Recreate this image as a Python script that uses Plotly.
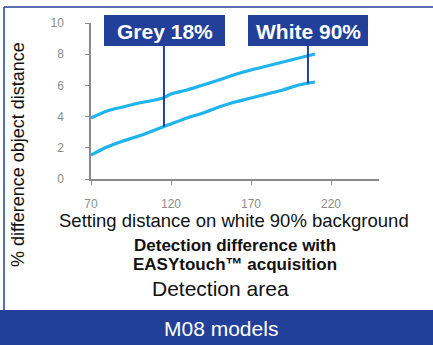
import numpy as np
import plotly.graph_objects as go

# Setting distance (x) and % difference in detected object distance (y)
setting_distance = [70, 80, 90, 100, 110, 115, 120, 130, 140, 150, 160, 170, 180, 190, 200, 210]
grey_18 = [1.54, 2.05, 2.44, 2.76, 3.14, 3.34, 3.53, 3.91, 4.23, 4.62, 4.94, 5.19, 5.45, 5.71, 6.03, 6.22]
white_90 = [3.91, 4.36, 4.62, 4.87, 5.06, 5.19, 5.45, 5.71, 6.03, 6.35, 6.70, 6.99, 7.24, 7.50, 7.76, 8.01]

x_ticks = [70, 120, 170, 220]
y_ticks = [0, 2, 4, 6, 8, 10]

# Where each callout points on the curves
grey_callout_x = 115.6
white_callout_x = 205.6

W, H = 433, 345
ML, MR, MT, MB = 91, 54, 23, 166
PW, PH = W - ML - MR, H - MT - MB

BLUE = "#22409a"
CYAN = "#1fb4ee"
FONT = "Liberation Sans, Arial, sans-serif"


def px(x):
    return (x - ML) / PW


def py(y):
    return (H - MB - y) / PH


fig = go.Figure()
for series in (grey_18, white_90):
    fig.add_trace(go.Scatter(
        x=setting_distance, y=series, mode="lines",
        line=dict(color=CYAN, width=3.2, shape="spline", smoothing=0.6),
        hoverinfo="skip", showlegend=False,
    ))

box_bottom = py(46)
box_top = py(15)

shapes = [
    # card frame: top rule and left rule
    dict(type="line", xref="paper", yref="paper", x0=px(4), x1=px(W), y0=py(7), y1=py(7),
         line=dict(color=BLUE, width=1.5)),
    dict(type="line", xref="paper", yref="paper", x0=px(4), x1=px(4), y0=py(7), y1=py(310),
         line=dict(color=BLUE, width=1.5)),
    # footer band
    dict(type="rect", xref="paper", yref="paper", x0=px(0), x1=px(W), y0=py(310), y1=py(H),
         fillcolor=BLUE, line=dict(width=0), layer="below"),
    # label boxes
    dict(type="rect", xref="paper", yref="paper", x0=px(104), x1=px(225), y0=box_bottom, y1=box_top,
         fillcolor=BLUE, line=dict(width=0)),
    dict(type="rect", xref="paper", yref="paper", x0=px(248), x1=px(368), y0=box_bottom, y1=box_top,
         fillcolor=BLUE, line=dict(width=0)),
]

# leader lines from the boxes down to the curves
for cx in (grey_callout_x, white_callout_x):
    y_end = float(np.interp(cx, setting_distance, grey_18))
    shapes.append(dict(type="line", xref="x", yref="y", x0=cx, x1=cx, y0=y_end, y1=box_bottom * 10,
                       line=dict(color=BLUE, width=2)))

annotations = [
    dict(text="<b>Grey 18%</b>", x=px(164.5), y=py(31), font=dict(size=21, color="white")),
    dict(text="<b>White 90%</b>", x=px(308), y=py(31), font=dict(size=21, color="white")),
    dict(text="% difference object distance", x=px(18), y=py(155), textangle=-90,
         font=dict(size=18, color="#111")),
    dict(text="Setting distance on white 90% background", x=px(234), y=py(220),
         font=dict(size=18.5, color="#111")),
    dict(text="<b>Detection difference with</b>", x=px(235), y=py(245),
         font=dict(size=17, color="#111")),
    dict(text="<b>EASYtouch™ acquisition</b>", x=px(235), y=py(264.5),
         font=dict(size=17, color="#111")),
    dict(text="Detection area", x=px(220), y=py(288), font=dict(size=21, color="#111")),
    dict(text="M08 models", x=px(220.5), y=py(328), font=dict(size=21, color="white")),
]
for a in annotations:
    a.update(xref="paper", yref="paper", showarrow=False, xanchor="center", yanchor="middle")
    a["font"]["family"] = FONT

axis_common = dict(
    showgrid=False, zeroline=False, showline=True, linecolor="#8a8a8a", linewidth=1.5,
    ticks="outside", ticklen=4, tickcolor="#8a8a8a", tickwidth=1.2,
    tickfont=dict(family=FONT, size=12, color="#8c8c8c"), fixedrange=True,
)

fig.update_layout(
    width=W, height=H, margin=dict(l=ML, r=MR, t=MT, b=MB, pad=0),
    paper_bgcolor="white", plot_bgcolor="white",
    xaxis=dict(range=[70, 250], tickvals=x_ticks, ticklabelstandoff=9, **axis_common),
    yaxis=dict(range=[0, 10], tickvals=y_ticks, ticklabelstandoff=19, **axis_common),
    shapes=shapes, annotations=annotations,
)

fig.write_html("out.html", config=dict(displayModeBar=False))
